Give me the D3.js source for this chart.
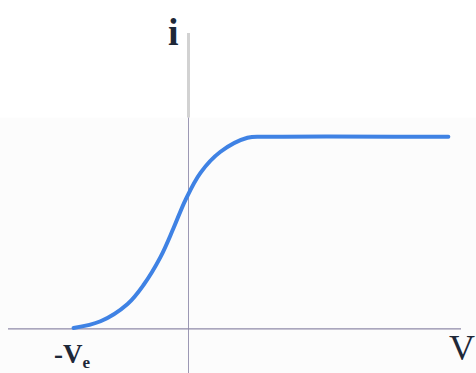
<!DOCTYPE html>
<html><head><meta charset="utf-8">
<script src="https://cdn.jsdelivr.net/npm/d3@7"></script>
<style>html,body{margin:0;padding:0;background:#fff;}svg{display:block;}</style>
</head><body>
<svg id="chart" width="476" height="373"></svg>
<script>
// Data (V in units of Ve, i in units of saturation current)
const voltages = [-1, -0.765, -0.53, -0.39, -0.243, -0.13, -0.026, 0.104, 0.278, 0.513, 0.687, 2.26];
const currents = [0.005, 0.04, 0.13, 0.23, 0.375, 0.525, 0.672, 0.8125, 0.922, 0.995, 1.0, 1.0];
const xDomain = [-1.57, 2.37];
const yDomain = [-0.38, 1.54];
const axisLabels = {y: "i", x: "V", origin: "-V", originSub: "e"};

const svg = d3.select("#chart");
const x = d3.scaleLinear().domain(xDomain).range([8, 461]);
const y = d3.scaleLinear().domain(yDomain).range([402, 33]);

// faint paper tint in lower area
svg.append("rect").attr("x",0).attr("y",y(1.1)).attr("width",476).attr("height",373-y(1.1)).attr("fill","#fcfcfc");

// upper gray part of vertical axis
svg.append("line").attr("x1",x(0)).attr("x2",x(0)).attr("y1",y(1.54)).attr("y2",y(1.1))
  .attr("stroke","#d2d2d2").attr("stroke-width",3);
// lower thin part
svg.append("line").attr("x1",x(0)).attr("x2",x(0)).attr("y1",y(1.1)).attr("y2",373)
  .attr("stroke","#9c98b4").attr("stroke-width",1);
// horizontal axis
svg.append("line").attr("x1",x(xDomain[0])).attr("x2",x(xDomain[1])).attr("y1",y(0)).attr("y2",y(0))
  .attr("stroke","#8f8aa8").attr("stroke-width",1.2);

const data = voltages.map((v,i)=>({v, c: currents[i]}));
const line = d3.line().x(d=>x(d.v)).y(d=>y(d.c)).curve(d3.curveCatmullRom.alpha(0.5));
svg.append("path").datum(data).attr("d",line).attr("fill","none")
  .attr("stroke","#3f82e4").attr("stroke-width",4).attr("stroke-linecap","round");

const font = "'Liberation Serif','DejaVu Serif',serif";
svg.append("text").attr("x",168).attr("y",45).attr("font-family",font).attr("font-weight","bold")
  .attr("font-size",38).attr("fill","#1e2838").text(axisLabels.y);
svg.append("text").attr("x",449).attr("y",360).attr("font-family",font)
  .attr("font-size",36).attr("fill","#1e2838").text(axisLabels.x);
const t = svg.append("text").attr("x",54).attr("y",363).attr("font-family",font).attr("font-weight","bold")
  .attr("font-size",27).attr("fill","#1e2838");
t.append("tspan").text(axisLabels.origin);
t.append("tspan").attr("font-size",17).attr("dy",5).text(axisLabels.originSub);
</script>
</body></html>
